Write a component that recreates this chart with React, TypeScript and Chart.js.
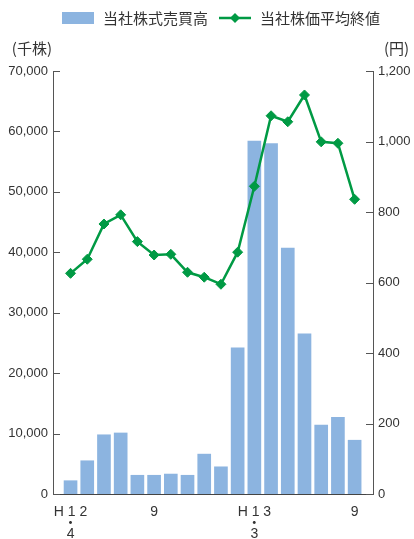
import React, { useEffect, useRef } from 'react';
import { Chart, registerables } from 'chart.js';

Chart.register(...registerables);

// ---- data ----
const categories = [
  'H12.4', 'H12.5', 'H12.6', 'H12.7', 'H12.8', 'H12.9', 'H12.10', 'H12.11', 'H12.12',
  'H13.1', 'H13.2', 'H13.3', 'H13.4', 'H13.5', 'H13.6', 'H13.7', 'H13.8', 'H13.9',
];
const volumeSeries = [
  2200, 5500, 9800, 10100, 3100, 3100, 3300, 3100, 6600,
  4500, 24200, 58400, 58000, 40700, 26500, 11400, 12700, 8900,
];
const priceSeries = [
  626, 666, 766, 792, 716, 678, 680, 629, 615,
  595, 686, 873, 1073, 1056, 1132, 999, 995, 836,
];
const volumeTicks = [0, 10000, 20000, 30000, 40000, 50000, 60000, 70000];
const priceTicks = [0, 200, 400, 600, 800, 1000, 1200];
const xTickIndices = [0, 5, 11, 17];
const xTickLabels: (string | string[])[] = [['H 1 2', '・', '4'], '9', ['H 1 3', '・', '3'], '9'];
const seriesLabels = ['当社株式売買高', '当社株価平均終値'];
const axisUnits = ['(千株)', '(円)'];

// ---- styles ----
const BAR_COLOR = '#8cb4e0';
const LINE_COLOR = '#009a44';
const AXIS_COLOR = '#555555';
const TEXT_COLOR = '#333333';
const NUM_FONT = '"Liberation Sans", Arial, "Noto Sans CJK JP", sans-serif';
const CJK_FONT = '"Noto Sans CJK JP", "Noto Sans", sans-serif';

const fmt = (v: number) => v.toLocaleString('en-US');

const decorPlugin = {
  id: 'decor',
  afterDraw(chart: any) {
    const ctx: CanvasRenderingContext2D = chart.ctx;
    const { left, right } = chart.chartArea;
    const yL = chart.scales.y;
    const yR = chart.scales.y1;
    ctx.save();
    // inward tick marks
    ctx.strokeStyle = AXIS_COLOR;
    ctx.lineWidth = 1;
    yL.ticks.forEach((t: any) => {
      const py = Math.round(yL.getPixelForValue(t.value)) + 0.5;
      ctx.beginPath();
      ctx.moveTo(left, py);
      ctx.lineTo(left + 7, py);
      ctx.stroke();
    });
    yR.ticks.forEach((t: any) => {
      const py = Math.round(yR.getPixelForValue(t.value)) + 0.5;
      ctx.beginPath();
      ctx.moveTo(right - 7, py);
      ctx.lineTo(right, py);
      ctx.stroke();
    });
    // axis unit titles
    ctx.fillStyle = TEXT_COLOR;
    ctx.font = `15px ${CJK_FONT}`;
    ctx.textBaseline = 'middle';
    ctx.textAlign = 'right';
    ctx.fillText(axisUnits[0], left - 1, 48);
    ctx.textAlign = 'left';
    ctx.fillText(axisUnits[1], right + 11, 48);

    // legend
    const ly = 18;
    const boxW = 32;
    const gapText = 9;
    const gapItem = 11;
    const w1 = ctx.measureText(seriesLabels[0]).width;
    const w2 = ctx.measureText(seriesLabels[1]).width;
    const total = boxW + gapText + w1 + gapItem + boxW + gapText + w2;
    let x = (left + right) / 2 + 8 - total / 2;
    ctx.fillStyle = BAR_COLOR;
    ctx.fillRect(x, ly - 6, boxW, 12);
    x += boxW + gapText;
    ctx.fillStyle = TEXT_COLOR;
    ctx.fillText(seriesLabels[0], x, ly);
    x += w1 + gapItem;
    ctx.strokeStyle = LINE_COLOR;
    ctx.lineWidth = 2.5;
    ctx.beginPath();
    ctx.moveTo(x, ly);
    ctx.lineTo(x + boxW, ly);
    ctx.stroke();
    const cx = x + boxW / 2;
    ctx.fillStyle = LINE_COLOR;
    ctx.beginPath();
    ctx.moveTo(cx, ly - 5);
    ctx.lineTo(cx + 5, ly);
    ctx.lineTo(cx, ly + 5);
    ctx.lineTo(cx - 5, ly);
    ctx.closePath();
    ctx.fill();
    x += boxW + gapText;
    ctx.fillStyle = TEXT_COLOR;
    ctx.fillText(seriesLabels[1], x, ly);
    ctx.restore();
  },
};

export default function App() {
  const ref = useRef<HTMLCanvasElement>(null);
  useEffect(() => {
    if (!ref.current) return;
    const chart = new Chart(ref.current, {
      type: 'bar',
      data: {
        labels: categories,
        datasets: [
          {
            type: 'line',
            label: seriesLabels[1],
            data: priceSeries.map((v, i) => ({ x: i, y: v })),
            yAxisID: 'y1',
            borderColor: LINE_COLOR,
            backgroundColor: LINE_COLOR,
            borderWidth: 2.5,
            pointStyle: 'rectRot',
            pointRadius: 5,
            pointBorderWidth: 1,
            pointBackgroundColor: LINE_COLOR,
            pointBorderColor: LINE_COLOR,
            tension: 0,
            order: 0,
          } as any,
          {
            type: 'bar',
            label: seriesLabels[0],
            data: volumeSeries.map((v, i) => ({ x: i, y: v })),
            yAxisID: 'y',
            backgroundColor: BAR_COLOR,
            borderWidth: 0,
            barThickness: 13,
            order: 1,
          } as any,
        ],
      },
      options: {
        responsive: false,
        animation: false,
        layout: { padding: { top: 71, left: 0, right: 0, bottom: 0 } },
        plugins: {
          legend: { display: false },
          tooltip: { enabled: false },
        },
        scales: {
          x: {
            type: 'linear',
            offset: false,
            min: -1.05,
            max: 18.1,
            grid: { display: false, drawTicks: false, offset: false },
            border: { display: true, color: '#444444', width: 1 },
            afterBuildTicks: (axis: any) => {
              axis.ticks = xTickIndices.map((v) => ({ value: v }));
            },
            afterFit: (axis: any) => {
              axis.height = 45;
            },
            ticks: {
              autoSkip: false,
              maxRotation: 0,
              padding: 13,
              color: TEXT_COLOR,
              font: { family: NUM_FONT, size: 14, lineHeight: '11px' as any },
              callback: (v: any) => {
                const idx = xTickIndices.indexOf(Number(v));
                return idx >= 0 ? xTickLabels[idx] : '';
              },
            },
          },
          y: {
            type: 'linear',
            position: 'left',
            min: 0,
            max: 70000,
            grid: { display: false, drawTicks: false },
            border: { display: true, color: AXIS_COLOR, width: 1 },
            afterBuildTicks: (axis: any) => {
              axis.ticks = volumeTicks.map((v) => ({ value: v }));
            },
            afterFit: (axis: any) => {
              axis.width = 53;
            },
            ticks: {
              padding: 5,
              color: TEXT_COLOR,
              font: { family: NUM_FONT, size: 13 },
              callback: (v: any) => fmt(Number(v)),
            },
          },
          y1: {
            type: 'linear',
            position: 'right',
            min: 0,
            max: 1200,
            grid: { display: false, drawTicks: false },
            border: { display: true, color: AXIS_COLOR, width: 1 },
            afterBuildTicks: (axis: any) => {
              axis.ticks = priceTicks.map((v) => ({ value: v }));
            },
            afterFit: (axis: any) => {
              axis.width = 41;
            },
            ticks: {
              padding: 5,
              color: TEXT_COLOR,
              font: { family: NUM_FONT, size: 13 },
              callback: (v: any) => fmt(Number(v)),
            },
          },
        },
      },
      plugins: [decorPlugin],
    });
    return () => chart.destroy();
  }, []);

  return (
    <div style={{ position: 'absolute', left: 0, top: 0, width: 414, height: 539 }}>
      <canvas ref={ref} width={414} height={539} style={{ display: 'block' }} />
    </div>
  );
}
